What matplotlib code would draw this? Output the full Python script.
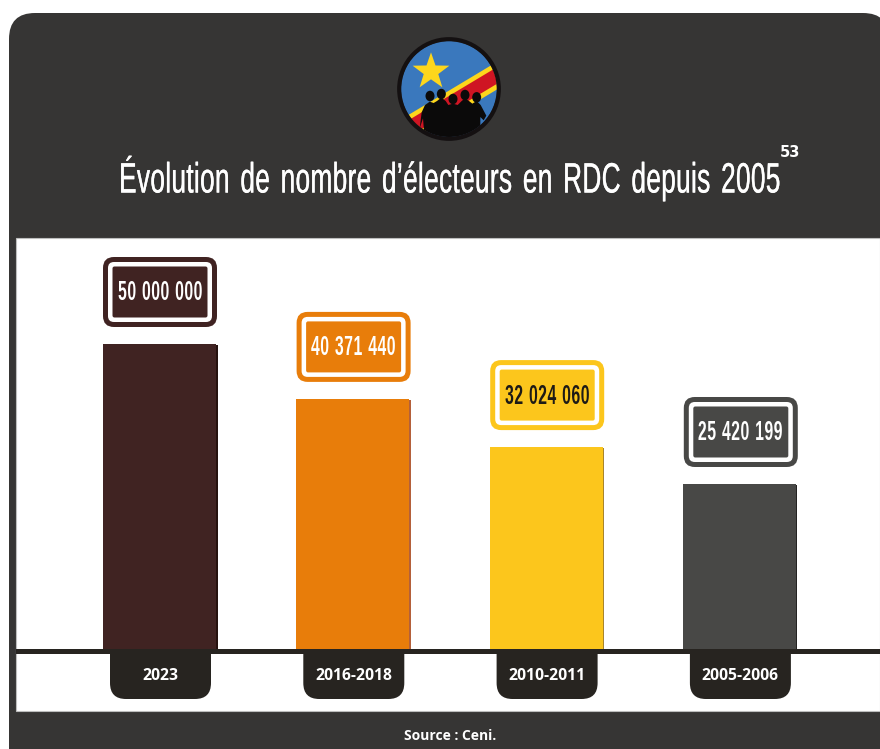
import numpy as np
import matplotlib as mpl
mpl.use('Agg')
import matplotlib.pyplot as plt
import matplotlib.patheffects as pe
from matplotlib import font_manager as fm
from matplotlib.patches import Circle, FancyBboxPatch, Polygon, Ellipse, Rectangle
from fontTools.ttLib import TTFont

periods = ['2023', '2016-2018', '2010-2011', '2005-2006']
value_labels = ['50 000 000', '40 371 440', '32 024 060', '25 420 199']
# bars in the source are not quite to scale, these are read off the picture (millions)
bar_heights = [50.0, 41.0, 33.1, 27.05]
bar_colors = ['#402322', '#e87d0a', '#fcc61c', '#484846']
shadow_colors = ['#26120f', '#b4603a', '#a8852c', '#242322']
label_colors = ['white', 'white', '#1d1a16', 'white']

title = 'Évolution de nombre d’électeurs en RDC depuis 2005'
source = 'Source : Ceni.'

DARK = '#363534'
TAB = '#272420'
BOLD = ['Open Sans', 'DejaVu Sans']

W, H = 880, 749
BASE = 649      # pixel row of value 0
PX_PER_M = 305/50.
X0, DX = 159.5, 193.3


def condensed(weight, family, sx, track, space):
    # no condensed face is installed, so squeeze Liberation Sans into one
    path = fm.findfont(fm.FontProperties(family='Liberation Sans', weight=weight))
    font = TTFont(path)
    glyf, hmtx = font['glyf'], font['hmtx']
    for name in font.getGlyphOrder():
        g = glyf[name]
        if g.isComposite():
            for comp in g.components:
                comp.x = round(comp.x*sx)
        elif g.numberOfContours > 0:
            g.coordinates.scale((sx, 1))
            g.program.fromBytecode(b'')
        g.recalcBounds(glyf)
        adv, lsb = hmtx[name]
        adv = round(adv*sx) + track
        if name == 'space':
            adv += space
        hmtx[name] = (adv, round(lsb*sx))
    for tag in ('fpgm', 'prep', 'cvt ', 'hdmx', 'VDMX', 'LTSH', 'GPOS', 'kern'):
        if tag in font:
            del font[tag]
    for rec in font['name'].names:
        if rec.nameID in (1, 4, 6, 16):
            rec.string = family
    out = family + '.ttf'
    font.save(out)
    fm.fontManager.addfont(out)
    return family


TITLE_FONT = condensed('normal', 'SqueezedRegular', 0.62, 15, 137)
VALUE_FONT = condensed('bold', 'SqueezedBold', 0.58, 40, 40)

fig = plt.figure(figsize=(W/100, H/100), dpi=100, facecolor='white')

# background layer works in pixels, y going down
bg = fig.add_axes([0, 0, 1, 1], zorder=0)
bg.set(xlim=(0, W), ylim=(H, 0))
bg.axis('off')

# bar layer has real value scales
ax = fig.add_axes([0, 0, 1, 1], zorder=1)
ax.patch.set_alpha(0)
ax.set(xlim=(-X0/DX, (W-X0)/DX), ylim=((BASE-H)/PX_PER_M, BASE/PX_PER_M))
ax.axis('off')


def rbox(a, x0, y0, x1, y1, r, color, **kw):
    p = FancyBboxPatch((x0, y0), x1-x0, y1-y0, boxstyle=f'round,pad=0,rounding_size={r}',
                       fc=color, ec='none', **kw)
    a.add_patch(p)
    return p


# panel
rbox(bg, 9, 13, 889, 775, 26, DARK)
bg.add_patch(Rectangle((16, 238), W-16, 473, fc='white', ec='#bdbdbd', lw=0.8))

# axis line and the period tabs
bg.add_patch(Rectangle((16, 649), W-16, 4.5, fc=TAB, ec='none'))
for i, lab in enumerate(periods):
    c = X0 + DX*i + 1
    rbox(bg, c-50.5, 625, c+50.5, 699, 16, TAB)
    bg.text(c, 676, lab, color='white', family=BOLD, weight='bold', fontsize=11.3,
            ha='center', va='center')

# bars
x = np.arange(len(periods))
ax.bar(x + 1.5/DX, np.array(bar_heights) - 0.15, width=113/DX, color=shadow_colors)
ax.bar(x, bar_heights, width=113/DX, color=bar_colors)

# value boxes, sitting 17 px above each bar
ov = fig.add_axes([0, 0, 1, 1], zorder=2)
ov.patch.set_alpha(0)
ov.set(xlim=(0, W), ylim=(H, 0))
ov.axis('off')
for i, lab in enumerate(value_labels):
    c = 160 + 193.6*i
    bottom = BASE - bar_heights[i]*PX_PER_M - 17
    top = bottom - 70
    rbox(ov, c-57, top, c+57, bottom, 11, bar_colors[i])
    rbox(ov, c-52, top+5, c+52, bottom-5, 6, 'white')
    rbox(ov, c-47.5, top+9.5, c+47.5, bottom-9.5, 2, bar_colors[i])
    ov.text(c, (top+bottom)/2 + 1.5, lab, color=label_colors[i], family=VALUE_FONT,
            fontsize=19.5, ha='center', va='center')

# title
ov.text(451, 178.5, title, color='white', family=TITLE_FONT, fontsize=30.5, ha='center', va='center',
        path_effects=[pe.withStroke(linewidth=0.2, foreground='white')])
ov.text(790, 152.5, '53', color='white', family='DejaVu Sans', weight='bold', fontsize=10.5,
        ha='center', va='center')
ov.text(450.5, 736, source, color='white', family=BOLD, weight='bold', fontsize=10,
        ha='center', va='center')


# flag badge, coordinates taken from the zoomed crops
def z(px, py):
    return 380 + px/3., 25 + py/3.


def zb(px, py):
    return 415 + px/3., 85 + py/3.


cx, cy, rad = 449, 89, 48
disc = Circle((cx, cy), rad, fc='#3a78bd', ec='none')
ov.add_patch(disc)
clip = Circle((cx, cy), rad, transform=ov.transData)


def band(offset0, offset1, color):
    # band along the flag diagonal, offsets are vertical at zoom x=340
    slope = -0.6
    xs = [0, 420]
    y = lambda v, o: 158 + o + slope*(v-340)
    pts = [z(xs[0], y(xs[0], offset0)), z(xs[1], y(xs[1], offset0)),
           z(xs[1], y(xs[1], offset1)), z(xs[0], y(xs[0], offset1))]
    p = Polygon(pts, fc=color, ec='none')
    ov.add_patch(p)
    p.set_clip_path(clip)


band(-41, 42, '#fdd61c')
band(-25, 25, '#cf1523')

ang = np.pi/2 + np.arange(10)*np.pi/5
rr = np.where(np.arange(10) % 2 == 0, 58, 23)
sx, sy = z(153, 140)
ov.add_patch(Polygon(np.c_[sx + rr/3.*np.cos(ang), sy - rr/3.*np.sin(ang)], fc='#fdd61c', ec='none'))

people = '#0b0a0a'
for hx, hy in [(45, 33), (79, 27), (114, 42), (150, 30), (185, 37)]:
    ov.add_patch(Ellipse(zb(hx, hy), 9, 10.5, fc=people, ec='none'))
body = [zb(*q) for q in [(14, 130), (20, 82), (30, 60), (44, 50), (56, 54), (66, 48), (79, 38),
                         (92, 48), (100, 60), (114, 56), (128, 60), (140, 48), (150, 40),
                         (162, 48), (172, 56), (185, 48), (197, 60), (214, 92), (206, 106),
                         (196, 96), (196, 135), (170, 170), (60, 170), (28, 150), (24, 100)]]
p = Polygon(body, fc=people, ec='none')
ov.add_patch(p)
p.set_clip_path(clip)
ov.add_patch(Circle((cx, cy), 49.8, fc='none', ec='#141011', lw=3))

fig.savefig('out.png', dpi=100)
